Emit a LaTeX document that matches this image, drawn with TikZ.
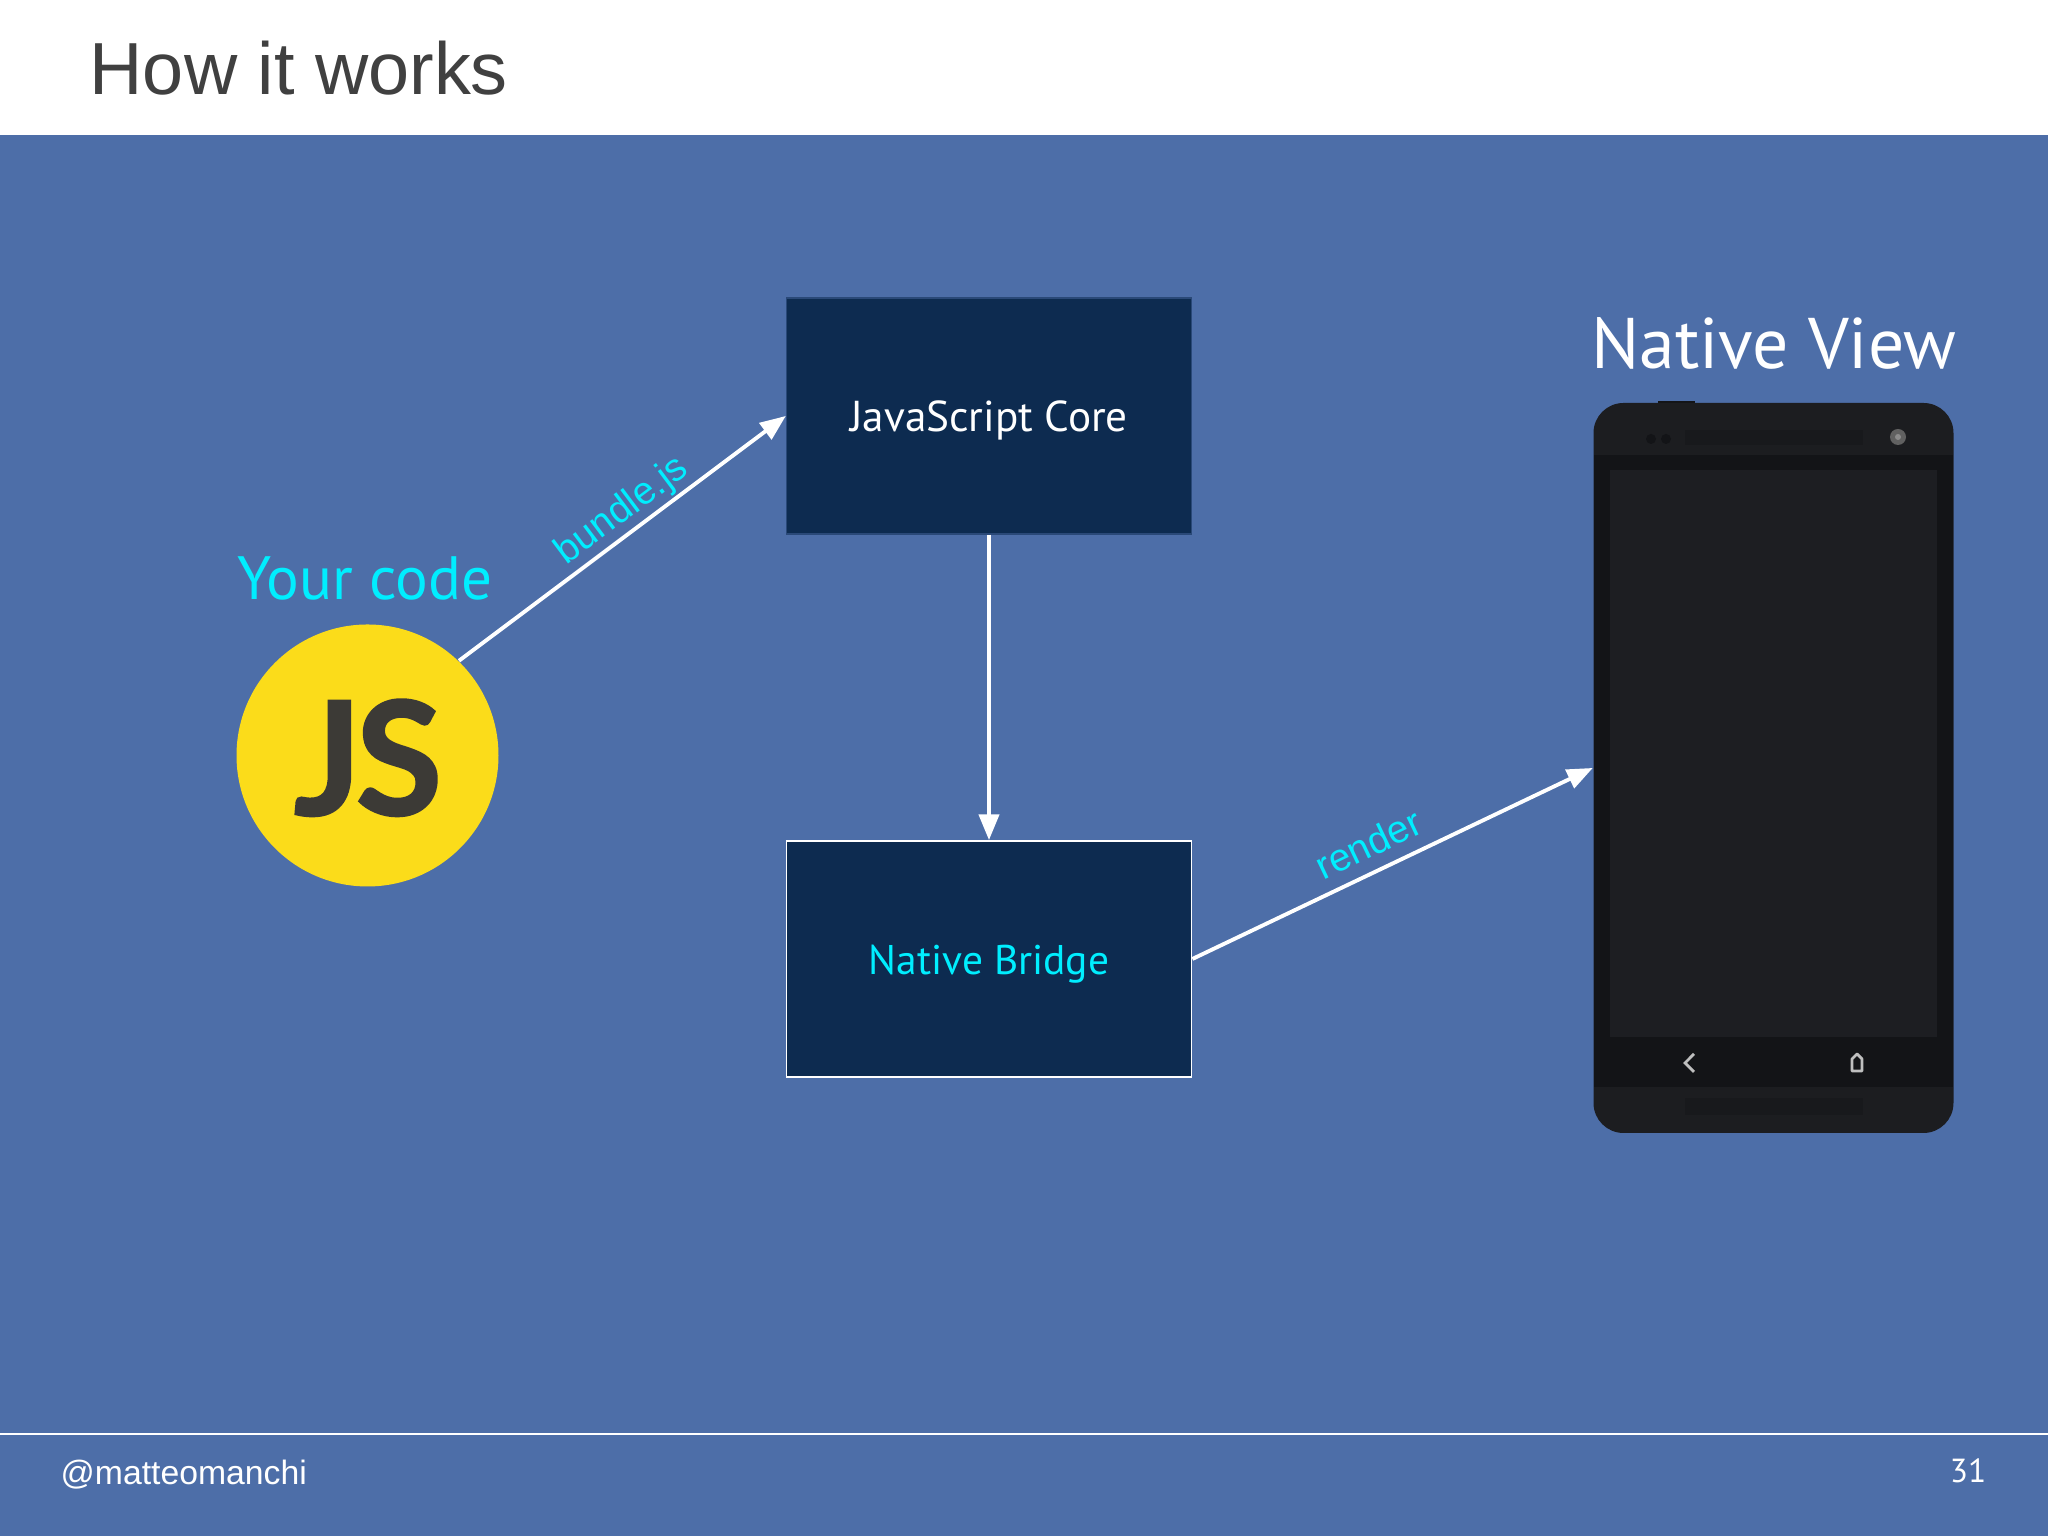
\documentclass[tikz,border=0pt]{standalone}
\usepackage{fontspec}
\setmainfont{PT Sans}
\newfontfamily\helv{Liberation Sans}
\newfontfamily\logofont[LetterSpace=-4,FakeBold=1.4]{Lato}
\usetikzlibrary{arrows.meta}
\definecolor{slideblue}{HTML}{4D6EA8}
\definecolor{boxnavy}{HTML}{0D2B50}
\definecolor{labelcyan}{HTML}{00EEFF}
\definecolor{jsyellow}{HTML}{FBDC1A}
\definecolor{jsdark}{HTML}{3C3A36}
\definecolor{phonebody}{HTML}{1C1D20}
\definecolor{phoneband}{HTML}{131417}
\definecolor{phonescreen}{HTML}{1D1E22}
\tikzset{
	stagebox/.style={rectangle, fill=boxnavy, minimum width=4.05cm, minimum height=2.36cm, inner sep=0pt, text height=8.6pt, text depth=0pt},
	flowline/.style={white, line width=1.1pt, -{Triangle[length=7.3pt,width=5.7pt]}},
	flowlabel/.style={labelcyan, font=\helv\fontsize{11}{13}\selectfont, sloped, inner sep=0pt}
}
\begin{document}
\begin{tikzpicture}
	\useasboundingbox (0,0) rectangle (20.48,15.36);
	\fill[white] (0,0) rectangle (20.48,15.36);
	\fill[slideblue] (0,0) rectangle (20.48,14.01);
	\draw[white, line width=0.45pt] (0,1.02) -- (20.48,1.02);

	\node[anchor=base west, inner sep=0pt, text=black!75, font=\helv\fontsize{21}{25}\selectfont] (title) at (0.89,14.41) {How it works};
	\node[anchor=base west, inner sep=0pt, white, font=\helv\fontsize{9.6}{12}\selectfont] (handle) at (0.60,0.51) {@matteomanchi};
	\node[anchor=base east, inner sep=0pt, white, font=\fontsize{9.5}{12}\selectfont] (pagenum) at (19.87,0.53) {31};

	% boxes
	\node[stagebox, draw=boxnavy!55!slideblue, text=white, font=\fontsize{12.3}{14}\selectfont] (core) at (9.89,11.20) {JavaScript Core};
	\node[stagebox, draw=white, line width=0.5pt, text=labelcyan, font=\fontsize{11.8}{14}\selectfont] (bridge) at (9.89,5.77) {Native Bridge};

	% js logo
	\node[circle, fill=jsyellow, minimum size=2.62cm, inner sep=0pt] (jslogo) at (3.675,7.805) {};
	\node[anchor=base, inner sep=0pt, text=jsdark, font=\logofont\bfseries\fontsize{45}{50}\selectfont] (jstext) at (3.68,7.21) {JS};
	\node[text=labelcyan, font=\fontsize{17.4}{20}\selectfont, inner sep=0pt] (yourcode) at (3.65,9.58) {Your code};

	% phone
	\fill[phoneband] (16.58,11.30) rectangle (16.95,11.35);
	\node[rectangle, rounded corners=0.3cm, fill=phonebody, minimum width=3.6cm, minimum height=7.3cm, inner sep=0pt] (phone) at (17.735,7.68) {};
	\fill[phoneband] (15.94,4.49) rectangle (19.53,10.81);
	\fill[phonescreen] (16.10,4.99) rectangle (19.37,10.66);
	\fill[phoneband!45!phonebody] (16.85,10.91) rectangle (18.63,11.06);
	\fill[phoneband!45!phonebody] (16.85,4.21) rectangle (18.63,4.38);
	\foreach \dotx in {16.51,16.66} {
		\fill[phoneband] (\dotx,10.97) circle (0.05);
	}
	\fill[black!62] (18.98,10.99) circle (0.08);
	\fill[black!45] (18.98,10.99) circle (0.03);
	\draw[black!25, line width=0.8pt] (16.94,4.82) -- (16.85,4.73) -- (16.94,4.64);
	\draw[black!25, line width=0.8pt, line join=round] (18.52,4.65) -- (18.52,4.77) -- (18.57,4.82) -- (18.62,4.77) -- (18.62,4.65) -- cycle;

	\node[text=white, font=\fontsize{20.4}{24}\selectfont, inner sep=0pt, anchor=base] (viewtitle) at (17.74,11.67) {Native View};

	% arrows
	\draw[flowline] (jslogo.46) -- node[flowlabel, pos=0.54, above=0.5pt] {bundle.js} (core.west);
	\draw[flowline] (core.south) -- (bridge.north);
	\draw[flowline] (bridge.east) -- node[flowlabel, pos=0.47, above=3.5pt] {render} (phone.west);
\end{tikzpicture}
\end{document}
